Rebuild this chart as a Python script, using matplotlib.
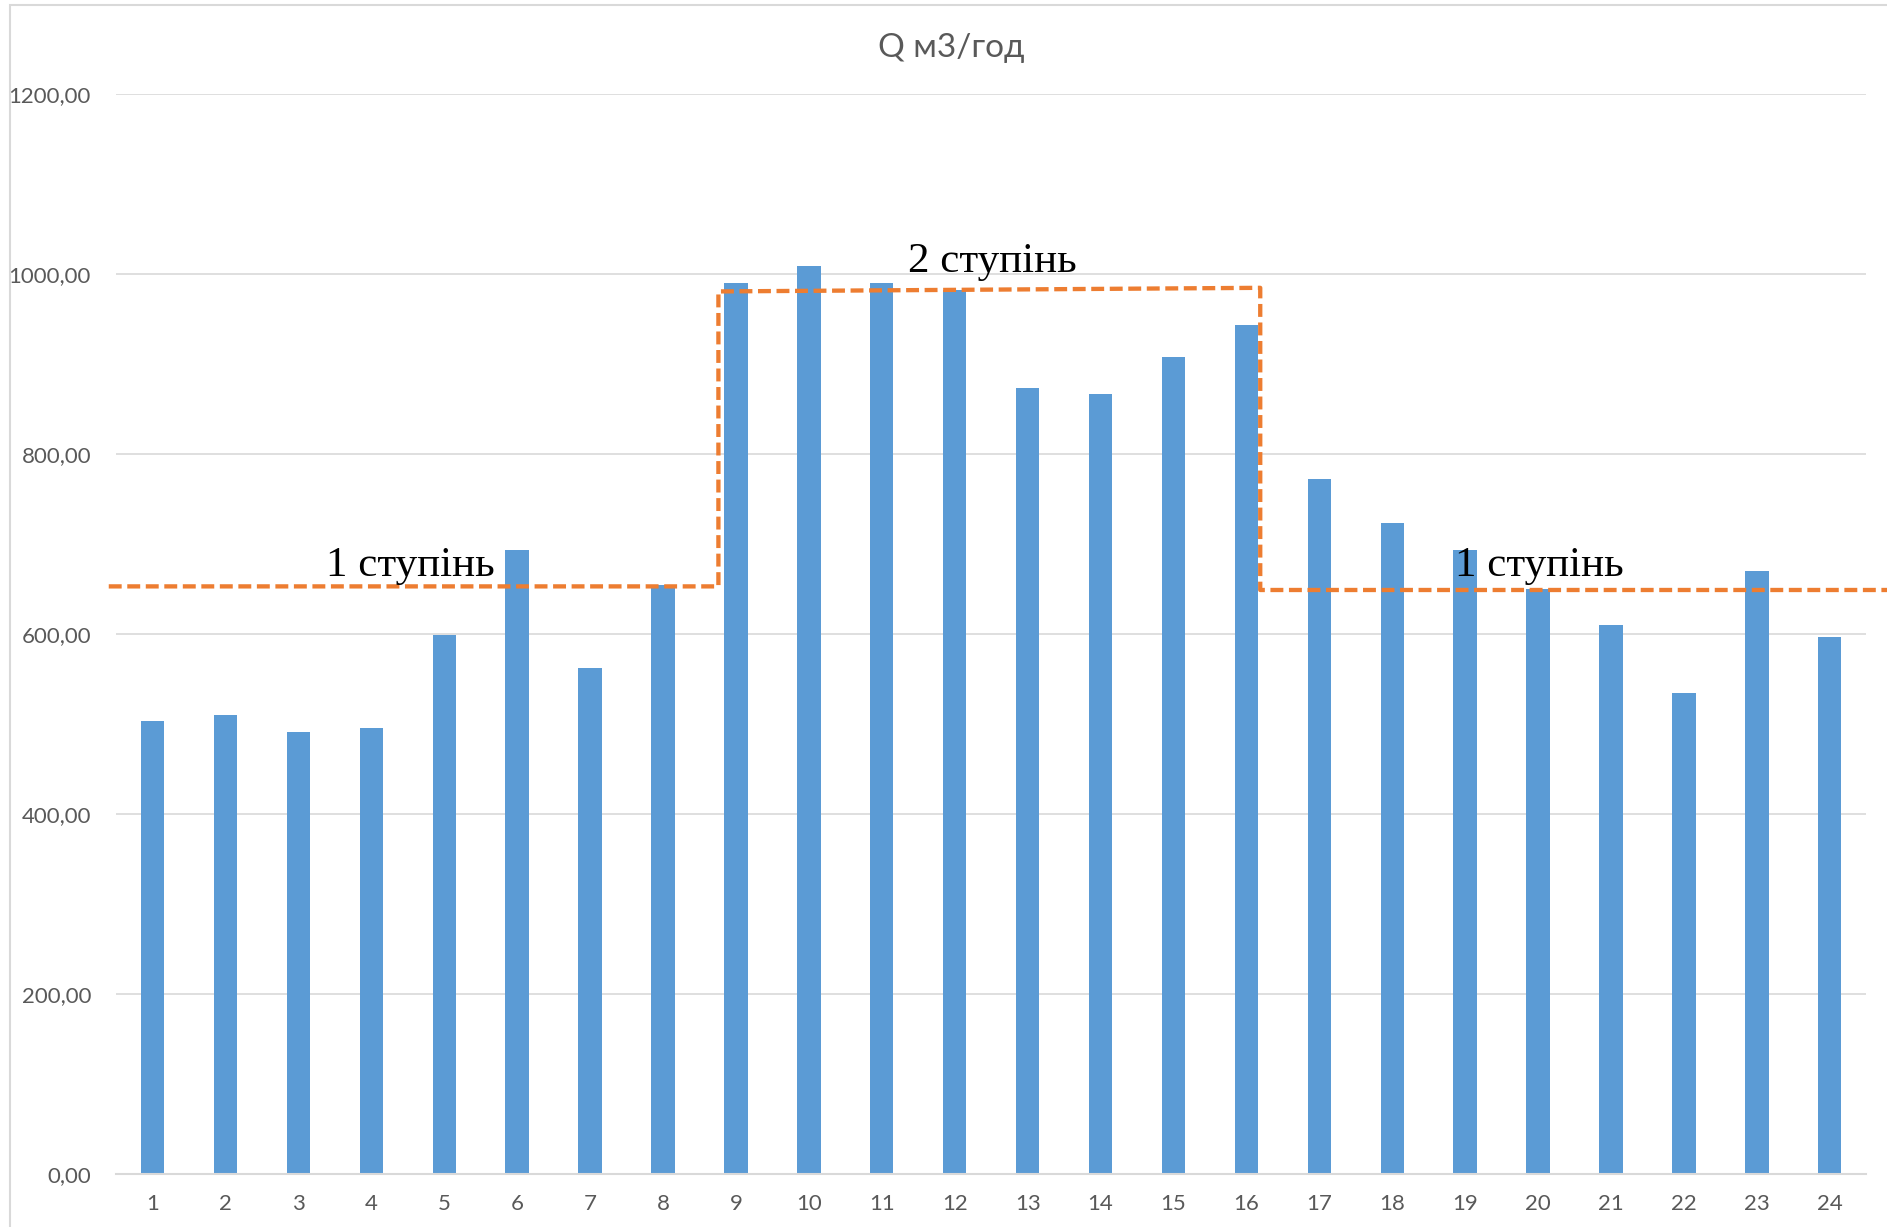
import matplotlib.pyplot as plt
from matplotlib.patches import Rectangle

# hours and flow
hours = list(range(1, 25))
flow = [503, 510, 491, 495, 599, 694, 562, 654, 990, 1009, 990, 983,
        874, 867, 908, 944, 772, 724, 693, 650, 610, 534, 670, 597]
y_ticks = [0, 200, 400, 600, 800, 1000, 1200]

# pump stage outline (dashed)
stage_x = [0.40, 8.76, 8.76, 16.19, 16.19, 24.85]
stage_y = [653, 653, 981, 985, 649, 649]
stage_labels = ['1 ступінь', '2 ступінь', '1 ступінь']
stage_label_x = [4.53, 12.52, 20.02]
stage_label_y = [664, 1003, 664]

bar_color = '#5B9BD5'
line_color = '#ED7D31'
grid_color = '#D9D9D9'
text_color = '#595959'

fig = plt.figure(figsize=(18.87, 12.27), dpi=100)
ax = fig.add_axes([0.0615, 0.0435, 0.9275, 0.8795])

ax.bar(hours, flow, width=0.32, color=bar_color, zorder=2)

ax.set_xlim(0.5, 24.5)
ax.set_ylim(0, 1200)
ax.set_xticks(hours)
ax.set_yticks(y_ticks)
ax.set_yticklabels([f'{v:.2f}'.replace('.', ',') for v in y_ticks])
ax.tick_params(axis='both', length=0, labelsize=16, colors=text_color,
               labelfontfamily='Lato')
ax.tick_params(axis='y', pad=18)
ax.tick_params(axis='x', pad=15)
ax.grid(axis='y', color=grid_color, linewidth=1.2, zorder=0)
for side in ['top', 'right', 'left']:
    ax.spines[side].set_visible(False)
ax.spines['bottom'].set_color(grid_color)
ax.spines['bottom'].set_linewidth(1.5)

ax.plot(stage_x, stage_y, color=line_color, linewidth=3.1,
        dashes=(3, 1.3), clip_on=False, zorder=3)

for lbl, x, y in zip(stage_labels, stage_label_x, stage_label_y):
    ax.text(x, y, lbl, ha='center', va='baseline', fontsize=31,
            family='Liberation Serif', color='black', zorder=4)

fig.text(0.504, 0.961, 'Q м3/год', ha='center', va='center',
         fontsize=24, family='Lato', color=text_color)

# outer chart frame
fig.patches.append(Rectangle((10 / 1887, -0.01), 1.0, 1 - 5 / 1227 + 0.01,
                             transform=fig.transFigure, fill=False,
                             edgecolor=grid_color, linewidth=1.5))

fig.savefig('out.png', dpi=100)
